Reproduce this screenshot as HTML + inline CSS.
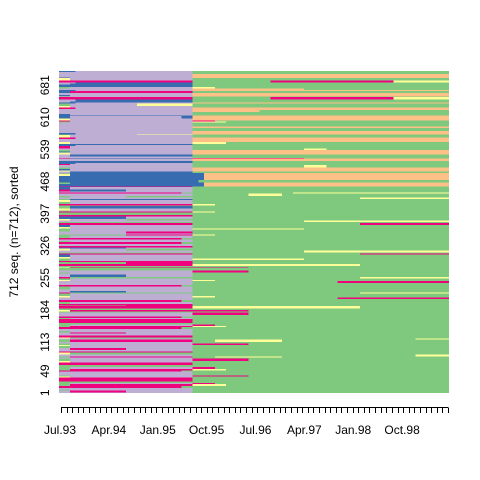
<!DOCTYPE html>
<html><head><meta charset="utf-8">
<style>
html,body{margin:0;padding:0;background:#fff;}
svg{display:block;font-family:"Liberation Sans",Arial,sans-serif;}
</style></head>
<body>
<svg id="chart" width="480" height="480" viewBox="0 0 480 480">
<g id="plot" shape-rendering="crispEdges"></g>
<g id="xaxis"></g>
<g id="yaxis"></g>
<text x="18" y="232" font-size="12" fill="#000" text-anchor="middle" transform="rotate(-90 18 232)">712 seq. (n=712), sorted</text>
</svg>
<script>
// states: S=school, F=further education, H=higher education, J=joblessness, E=employment, T=training
const stateCodes = ["S","F","H","J","E","T"];
const stateColors = ["#386CB0","#BEAED4","#FDC086","#FFFF99","#7FC97F","#F0027F"];
const monthLabels = ["Jul.93","Apr.94","Jan.95","Oct.95","Jul.96","Apr.97","Jan.98","Oct.98"];
const monthLabelIdx = [0,9,18,27,36,45,54,63];
const yTickLabels = [1,49,113,184,255,326,397,468,539,610,681];
const nMonths = 70;
const nSeq = 712;
// groups listed from top of plot downward: sequence counts and run-length patterns cycled within the group
const groupCounts = [70,80,75,30,65,100,130,162];
const groupPatterns = [
 ["S3F21E46","F24H46","T24E14T22J10","S2S22E46","S3F21H46","F24E46","S2F22H46","F3S21E46","E2F22J4E42","S2T22E46","F24H46","J2F22E46","F2S22E46","F24H20E26"],
 ["S3F21H46","F24E46","J2F22H46","S2F22E46","F24H46","E2F12J10E46","F24E46","T2F22T4E40","S3S21H46","F24H12E34","J2F22E46","F24H46","E2F22J6E40","S2F20S2H46","F24E46","T3F21H46"],
 ["F24H46","S2S22E46","F24E20J4E22","J2F22H46","T2S22T20E26","F24H46","S3F21E46","E2F22H46","F2S22E46","F24H46","J2F22J6E40","T2F22E46","S2F22H46","F24E46"],
 ["S26H44","S26H44","E2S24H44","S26H44","S25E45","J2S24H44","S26H44"],
 ["T2T22E46","E2S22E46","F24E46","T24J4E42","E2F10E12E46","S2F22E46","J2F22E46","T2T20E20J28","E2E22E46","F2F22E30J16","T2S10F12E46","E2F22E46","F24E10J6E30"],
 ["T2T22E46","E2F22E46","F2F10T12E46","J2F22E46","E2E22E46","S2S10F12E46","T2T20E48","F24E46","E2F22J20E26","T24E30T16","J2F10E12E46","F24E46","E2E10T12J4E42","E2F22E46","S2F22E46","F2F22E20J24"],
 ["T2T22E46","E2F22E46","F24E46","J2T22T10E36","E2F22E46","E2E10T12E46","F2F22E46","T2T20E48","E24E46","J2F22J4E42","T2T22J30E16","F2S10F12E46","E2F22E46","F24T10E36","F24E26T20","E2E22E46","T2E22E30J16"],
 ["T2T22E46","E2F22E46","F24E46","E2T22J6E40","J2E22E46","T24E46","F2T10F12E46","E2F22T10E36","T2T20E48","F24E40J6","E2E22E46","F2F22E46","J2F22E46","F24E46","E2T22E4J12E30","E2F22T4E42","T24E46"]
];

const NS="http://www.w3.org/2000/svg";
const L=59, R=449, T=71, B=393;
const cellW=(R-L)/nMonths;
const total=groupCounts.reduce((a,b)=>a+b,0);
const rowH=(B-T)/total;
function xOf(m){return L+m*cellW;}
function yOf(rowFromTop){return T+rowFromTop*rowH;}
function parse(p){const out=[];const re=/([A-Z])(\d+)/g;let m;while((m=re.exec(p))){out.push([m[1],+m[2]]);}return out;}
const plot=document.getElementById('plot');
let row=0;
groupCounts.forEach((cnt,g)=>{
  const pats=groupPatterns[g];
  const k=pats.length;
  let i=0, n=0;
  while(i<cnt){
    const pIdx=(n*5+Math.floor(n/k))%k;
    const runLen=Math.min(2+((n*7)%4),cnt-i); // adjacent identical rows
    const runs=parse(pats[pIdx]);
    let m=0;
    runs.forEach((r,j)=>{
      if(m>=nMonths)return;
      const len=(j===runs.length-1)?nMonths-m:Math.min(r[1],nMonths-m);
      const rect=document.createElementNS(NS,'rect');
      rect.setAttribute('x',xOf(m).toFixed(2));
      rect.setAttribute('y',yOf(row).toFixed(2));
      rect.setAttribute('width',(len*cellW).toFixed(2));
      rect.setAttribute('height',(runLen*rowH+0.05).toFixed(2));
      rect.setAttribute('fill',stateColors[stateCodes.indexOf(r[0])]);
      
      
      plot.appendChild(rect);
      m+=len;
    });
    row+=runLen; i+=runLen; n++;
  }
});
// x axis
const xa=document.getElementById('xaxis');
const tx0=61, tx1=448;
const tstep=(tx1-tx0)/(nMonths-1);
const line=document.createElementNS(NS,'line');
line.setAttribute('x1',tx0);line.setAttribute('x2',tx1);line.setAttribute('y1',407.5);line.setAttribute('y2',407.5);
line.setAttribute('stroke','#000');


xa.appendChild(line);
for(let i=0;i<nMonths;i++){
  const t=document.createElementNS(NS,'line');
  const x=Math.round(tx0+i*tstep)+0.5;
  t.setAttribute('x1',x);t.setAttribute('x2',x);t.setAttribute('y1',407.5);t.setAttribute('y2',413);
  t.setAttribute('stroke','#000');
  
  
  xa.appendChild(t);
}
monthLabels.forEach((lab,k)=>{
  const t=document.createElementNS(NS,'text');
  t.setAttribute('x',60+monthLabelIdx[k]*5.43);
  t.setAttribute('y',434);
  t.setAttribute('font-size','12');
  t.setAttribute('text-anchor','middle');
  t.textContent=lab;
  
  
  xa.appendChild(t);
});
// y axis labels
const ya=document.getElementById('yaxis');
yTickLabels.forEach(v=>{
  const y=B-(v-0.5)/nSeq*(B-T);
  const t=document.createElementNS(NS,'text');
  t.setAttribute('x',49);t.setAttribute('y',y);
  t.setAttribute('font-size','12');
  t.setAttribute('text-anchor','middle');
  t.setAttribute('transform','rotate(-90 49 '+y+')');
  t.textContent=v;
  
  
  ya.appendChild(t);
});
</script>
</body></html>
